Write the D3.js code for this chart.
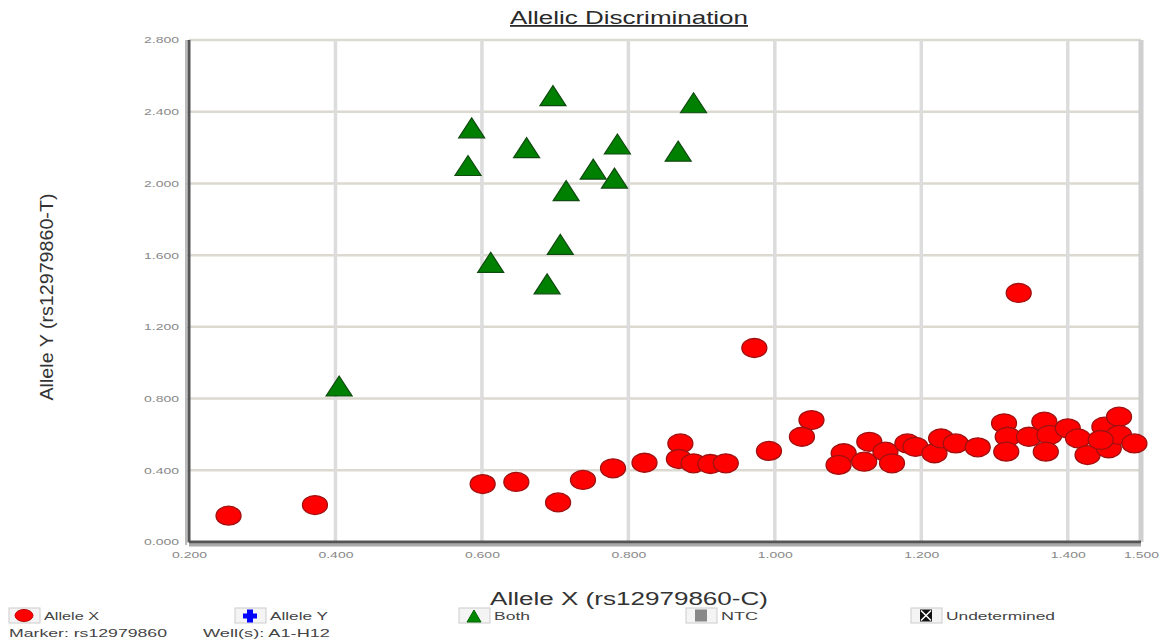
<!DOCTYPE html>
<html><head><meta charset="utf-8">
<script src="https://cdn.jsdelivr.net/npm/d3@7"></script>
<style>body{margin:0;background:#fff;} svg{display:block;font-family:"Liberation Sans",Arial,sans-serif;}</style>
</head><body><svg id="c" width="1161" height="642"></svg>
<script>
const xTicks = [0.2,0.4,0.6,0.8,1.0,1.2,1.4,1.5];
const yTicks = [0,0.4,0.8,1.2,1.6,2.0,2.4,2.8];
// "Both" cluster (green triangles)
const bothX = [0.697,0.889,0.586,0.661,0.785,0.868,0.581,0.752,0.781,0.715,0.707,0.612,0.689,0.405];
const bothY = [2.49,2.45,2.31,2.20,2.22,2.18,2.10,2.08,2.03,1.96,1.66,1.56,1.44,0.87];
// "Allele X" cluster (red circles)
const alleleXx = [0.254,0.372,0.601,0.647,0.704,0.738,0.779,0.822,0.871,0.869,0.889,0.912,0.933,0.992,0.972,1.050,1.037,
  1.094,1.087,1.122,1.129,1.151,1.160,1.181,1.192,1.218,1.227,1.247,1.277,1.313,1.318,1.316,1.347,1.368,1.375,1.370,
  1.400,1.414,1.427,1.450,1.456,1.470,1.470,1.491,1.445,1.333];
const alleleXy = [0.147,0.206,0.323,0.335,0.221,0.346,0.411,0.442,0.550,0.463,0.439,0.435,0.439,0.508,1.082,0.680,0.587,
  0.495,0.430,0.448,0.559,0.504,0.439,0.550,0.531,0.495,0.578,0.550,0.528,0.662,0.587,0.504,0.587,0.671,0.597,0.504,
  0.634,0.578,0.485,0.643,0.523,0.699,0.597,0.550,0.569,1.389];
const legendLabels = ["Allele X","Allele Y","Both","NTC","Undetermined"];
const title = "Allelic Discrimination";
const xTitle = "Allele X (rs12979860-C)";
const yTitle = "Allele Y (rs12979860-T)";
const markerText = "Marker: rs12979860";
const wellText = "Well(s): A1-H12";

const svg = d3.select("#c");
const L=189, R=1141, T=40, B=542;
const x = d3.scaleLinear().domain([0.2,1.5]).range([L,R]);
const y = d3.scaleLinear().domain([0,2.8]).range([B,T]);

// gridlines
svg.append("g").selectAll("line").data(yTicks.filter(d=>d>0)).join("line")
  .attr("x1",L).attr("x2",R).attr("y1",d=>y(d)).attr("y2",d=>y(d))
  .attr("stroke","#dcd9d0").attr("stroke-width",2.5);
svg.append("g").selectAll("line").data(xTicks.filter(d=>d>0.2&&d<1.5)).join("line")
  .attr("x1",d=>x(d)).attr("x2",d=>x(d)).attr("y1",T).attr("y2",B)
  .attr("stroke","#dcdcdc").attr("stroke-width",3.5);
svg.append("line").attr("x1",x(1.5)).attr("x2",x(1.5)).attr("y1",T).attr("y2",B)
  .attr("stroke","#cfcfcf").attr("stroke-width",5);

// axes
const xAxis = d3.axisBottom(x).tickValues(xTicks).tickFormat(d3.format(".3f")).tickSize(0).tickPadding(10);
const yAxis = d3.axisLeft(y).tickValues(yTicks).tickFormat(d3.format(".3f")).tickSize(4).tickPadding(6);
const gx = svg.append("g").attr("transform",`translate(0,${B})`).call(xAxis);
const gy = svg.append("g").attr("transform",`translate(${L},0)`).call(yAxis);
[gx,gy].forEach(g=>{
  g.select(".domain").remove();
  g.selectAll("text").attr("fill","#888").attr("font-size",9).attr("textLength",35).attr("lengthAdjust","spacingAndGlyphs");
  g.selectAll("line").attr("stroke","#ccc");
});
svg.append("line").attr("x1",L-3).attr("x2",L-3).attr("y1",T).attr("y2",B+3).attr("stroke","#bbb").attr("stroke-width",2);
svg.append("line").attr("x1",L).attr("x2",L).attr("y1",T).attr("y2",B).attr("stroke","#555").attr("stroke-width",3);
svg.append("line").attr("x1",L).attr("x2",R).attr("y1",B+3).attr("y2",B+3).attr("stroke","#aaa").attr("stroke-width",3);
svg.append("line").attr("x1",L).attr("x2",R).attr("y1",B).attr("y2",B).attr("stroke","#555").attr("stroke-width",3);

// points
const red = alleleXx.map((v,i)=>({x:v,y:alleleXy[i]}));
svg.append("g").selectAll("ellipse").data(red).join("ellipse")
  .attr("cx",d=>x(d.x)).attr("cy",d=>y(d.y)).attr("rx",12.5).attr("ry",9.5)
  .attr("fill","#ff0000").attr("stroke","#a01010").attr("stroke-width",1.3);
const tri = bothX.map((v,i)=>({x:v,y:bothY[i]}));
const triPath = "M0,-10L13,10L-13,10Z";
svg.append("g").selectAll("path").data(tri).join("path")
  .attr("transform",d=>`translate(${x(d.x)},${y(d.y)})`).attr("d",triPath)
  .attr("fill","#008000").attr("stroke","#104a10").attr("stroke-width",1.2);

// titles
svg.append("text").attr("x",629).attr("y",24).attr("text-anchor","middle")
  .attr("font-size",18).attr("fill","#2a2a2a").attr("text-decoration","underline")
  .attr("textLength",238).attr("lengthAdjust","spacingAndGlyphs").text(title);
svg.append("text").attr("x",629).attr("y",605).attr("text-anchor","middle")
  .attr("font-size",18).attr("fill","#333")
  .attr("textLength",278).attr("lengthAdjust","spacingAndGlyphs").text(xTitle);
svg.append("text").attr("transform","translate(53,297) rotate(-90)").attr("text-anchor","middle")
  .attr("font-size",18).attr("fill","#333")
  .attr("textLength",207).attr("lengthAdjust","spacingAndGlyphs").text(yTitle);

// legend
const lg = svg.append("g").attr("font-size",11).attr("fill","#444");
const legX = [9,235,459,686,911];
const legW = [55,58,36,37,109];
legendLabels.forEach((lab,i)=>{
  const g = lg.append("g").attr("transform",`translate(${legX[i]},608)`);
  g.append("rect").attr("x",0).attr("y",0).attr("width",31).attr("height",15).attr("fill","#f4f4f4").attr("stroke","#ccc");
  if(i===0) g.append("ellipse").attr("cx",15).attr("cy",7.5).attr("rx",9).attr("ry",6).attr("fill","#f00").attr("stroke","#b00");
  if(i===1) g.append("path").attr("d","M12,1.5h6v4h4v5h-4v4h-6v-4h-4v-5h4z").attr("fill","#00f");
  if(i===2) g.append("path").attr("d","M15,2L22,14L8,14Z").attr("fill","#080").attr("stroke","#060");
  if(i===3) g.append("rect").attr("x",9).attr("y",1.5).attr("width",12).attr("height",12).attr("fill","#888");
  if(i===4){ g.append("rect").attr("x",9).attr("y",1.5).attr("width",12).attr("height",12).attr("fill","#111");
    g.append("path").attr("d","M10,2.5L20,12.5M20,2.5L10,12.5").attr("stroke","#fff").attr("stroke-width",1.5);}
  g.append("text").attr("x",35).attr("y",12).attr("textLength",legW[i]).attr("lengthAdjust","spacingAndGlyphs").text(lab);
});
lg.append("text").attr("x",9).attr("y",637).attr("textLength",158).attr("lengthAdjust","spacingAndGlyphs").text(markerText);
lg.append("text").attr("x",203).attr("y",637).attr("textLength",127).attr("lengthAdjust","spacingAndGlyphs").text(wellText);
</script></body></html>
